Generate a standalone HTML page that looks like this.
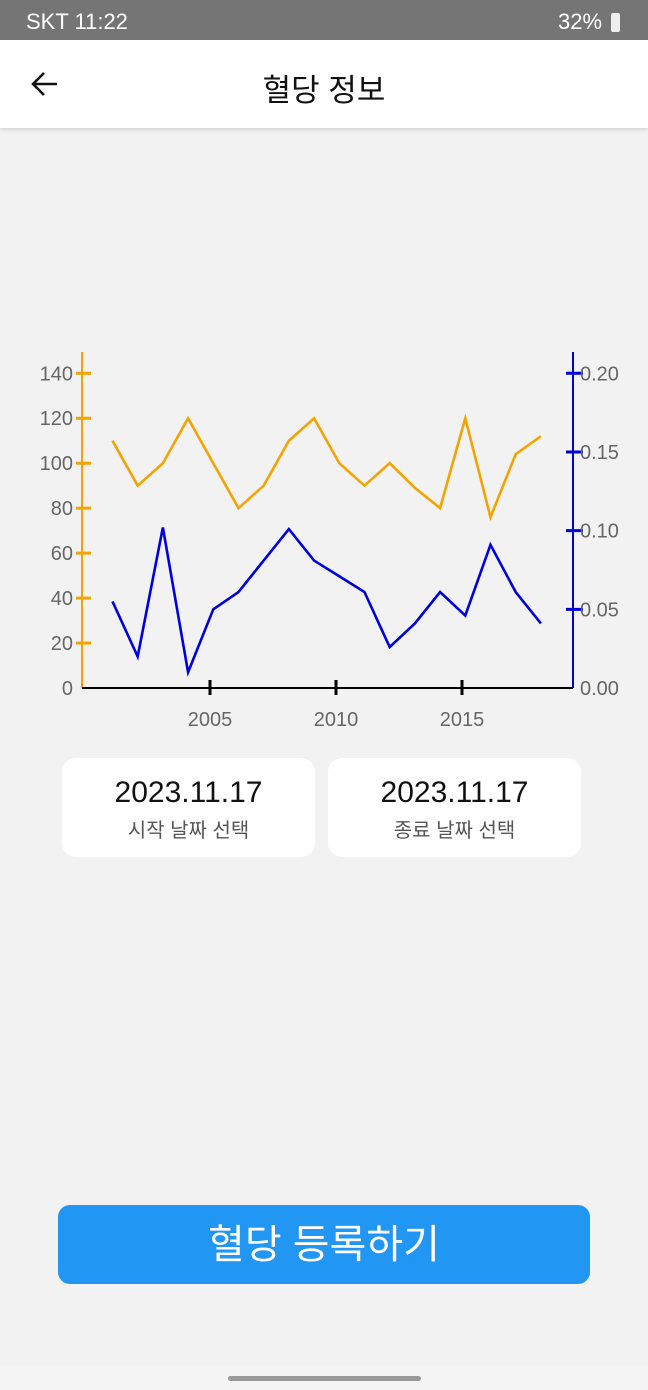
<!DOCTYPE html>
<html><head><meta charset="utf-8"><style>
body{margin:0;width:648px;height:1390px;background:#f2f2f2;font-family:"Liberation Sans","Noto Sans CJK KR",sans-serif;position:relative;overflow:hidden}
.abs{position:absolute}
#status{left:0;top:0;width:648px;height:40px;background:#757575;color:#fff;font-size:22px}
#header{left:0;top:40px;width:648px;height:88px;background:#fff;box-shadow:0 2px 3px rgba(0,0,0,0.12)}
.card{background:#fff;border-radius:14px;width:253px;height:99px;top:758px;text-align:center}
.card .d{font-size:30px;color:#111;margin-top:18px}
.card .s{font-size:20px;color:#555;margin-top:4px}
#reg{left:58px;top:1205px;width:532px;height:79px;background:#2196f3;border-radius:12px;color:#fff;font-size:40px;text-align:center;line-height:80px}
</style></head><body>
<div id="status" class="abs">
<span class="abs" style="left:26px;top:9px">SKT 11:22</span>
<span class="abs" style="left:558px;top:9px">32%</span>
<span class="abs" style="left:611px;top:13px;width:9px;height:19px;background:#eee;border-radius:2px"></span>
</div>
<div id="header" class="abs">
<svg class="abs" style="left:30px;top:30px" width="30" height="28"><path d="M27 14H4M14 3L3 14l11 11" stroke="#111" stroke-width="2.6" fill="none"/></svg>
<div class="abs" style="left:0;width:648px;top:25px;text-align:center;font-size:31px;color:#111">혈당 정보</div>
</div>
<svg class="abs" style="left:0;top:330px" width="648" height="420" id="chart"></svg>
<div class="abs card" style="left:62px"><div class="d">2023.11.17</div><div class="s">시작 날짜 선택</div></div>
<div class="abs card" style="left:328px"><div class="d">2023.11.17</div><div class="s">종료 날짜 선택</div></div>
<div id="reg" class="abs">혈당 등록하기</div>
<div class="abs" style="left:0;top:1366px;width:648px;height:24px;background:#f4f4f4"></div>
<div class="abs" style="left:228px;top:1376px;width:193px;height:5px;border-radius:3px;background:#999"></div>
<script>
const years=[2001,2002,2003,2004,2005,2006,2007,2008,2009,2010,2011,2012,2013,2014,2015,2016,2017,2018];
const leftValues=[110,90,100,120,100,80,90,110,120,100,90,100,89,80,120,76,104,112];
const rightValues=[0.055,0.02,0.102,0.01,0.05,0.061,0.081,0.101,0.081,0.071,0.061,0.026,0.041,0.061,0.046,0.091,0.061,0.041];
const leftTicks=[0,20,40,60,80,100,120,140];
const rightTicks=[0,0.05,0.10,0.15,0.20];
const rightTickLabels=["0.00","0.05","0.10","0.15","0.20"];
const xTicks=[2005,2010,2015];
const svg=document.getElementById('chart');
const NS='http://www.w3.org/2000/svg';
const OY=330,y0=688-OY,xL=82,xR=573,yTop=352-OY;
const xs=v=>210+(v-2005)*25.2;
const yl=v=>y0-v*2.248;
const yr=v=>y0-v*(314.7/0.2);
function mk(t,a){const e=document.createElementNS(NS,t);for(const k in a)e.setAttribute(k,a[k]);svg.appendChild(e);return e;}
let e;
e=mk('line',{x1:xL,y1:yTop,x2:xL,y2:y0,stroke:'#f5a300','stroke-width':2});


e=mk('line',{x1:xR,y1:yTop,x2:xR,y2:y0,stroke:'#0000dd','stroke-width':2});


e=mk('line',{x1:xL,y1:y0,x2:xR,y2:y0,stroke:'#000','stroke-width':2});


leftTicks.forEach(v=>{
 if(v>0){
 e=mk('line',{x1:76,y1:yl(v),x2:91,y2:yl(v),stroke:'#f5a300','stroke-width':3});
 
 
 }
 e=mk('text',{x:73,y:yl(v)+7,'text-anchor':'end','font-size':20,fill:'#666','font-family':'Liberation Sans, sans-serif'});
 e.textContent=v;
 
 
});
rightTicks.forEach((v,i)=>{
 if(v>0){e=mk('line',{x1:566,y1:yr(v),x2:583,y2:yr(v),stroke:'#0000dd','stroke-width':3});
 
 }
 e=mk('text',{x:580,y:yr(v)+7,'font-size':20,fill:'#666','font-family':'Liberation Sans, sans-serif'});
 e.textContent=rightTickLabels[i];
 
 
});
mk('rect',{x:622,y:0,width:26,height:420,fill:'#f2f2f2'});
xTicks.forEach(v=>{
 e=mk('line',{x1:xs(v),y1:y0-8,x2:xs(v),y2:y0+7,stroke:'#000','stroke-width':3});
 
 
 e=mk('text',{x:xs(v),y:y0+38,'text-anchor':'middle','font-size':20,fill:'#666','font-family':'Liberation Sans, sans-serif'});
 e.textContent=v;
 
 
});
const pl=years.map((y,i)=>xs(y+0.13)+','+yl(leftValues[i])).join(' ');
e=mk('polyline',{points:pl,fill:'none',stroke:'#f5a300','stroke-width':2.6});


const pr=years.map((y,i)=>xs(y+0.13)+','+yr(rightValues[i])).join(' ');
e=mk('polyline',{points:pr,fill:'none',stroke:'#0000dd','stroke-width':2.6});


</script>
</body></html>
